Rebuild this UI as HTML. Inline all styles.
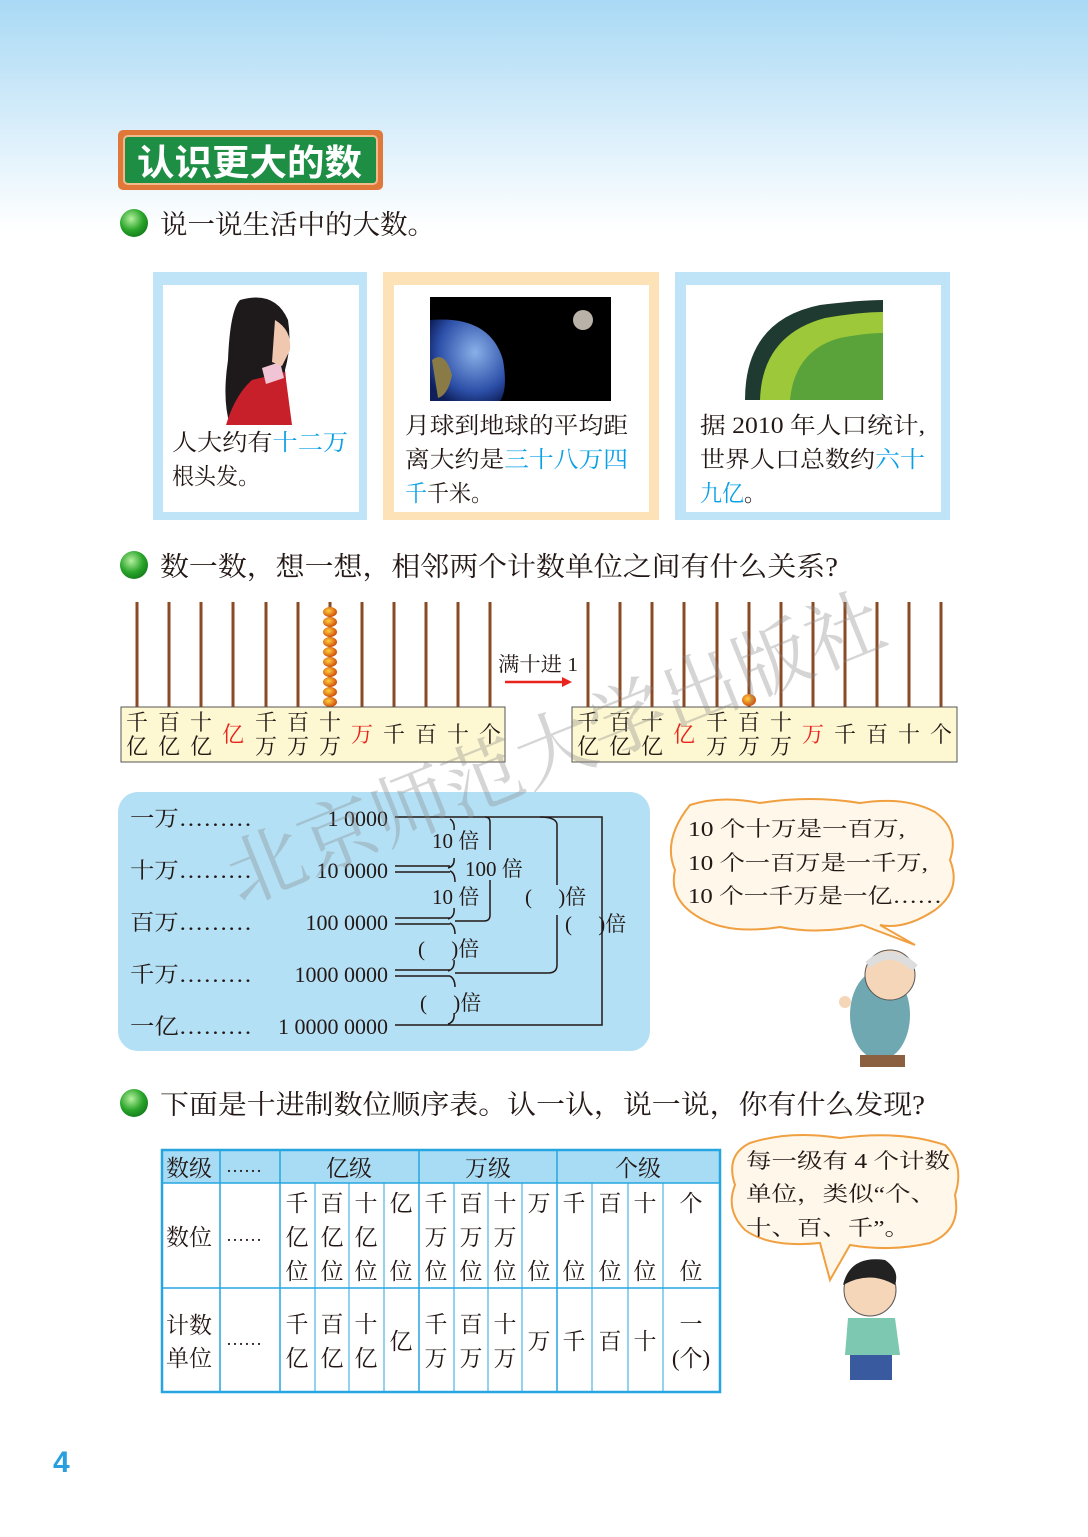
<!DOCTYPE html>
<html><head><meta charset="utf-8"><style>
html,body{margin:0;padding:0}
body{width:1088px;height:1537px;overflow:hidden;background:#fff}
svg{display:block}
text{font-family:"Liberation Serif","Noto Serif CJK SC",serif;fill:#231815}
.s{font-family:"Liberation Sans","Noto Sans CJK SC",sans-serif}
.b{fill:#0aa0e6}
</style></head><body>
<svg width="1088" height="1537" viewBox="0 0 1088 1537" xmlns="http://www.w3.org/2000/svg">
<defs>
<linearGradient id="bg" x1="0" y1="0" x2="0" y2="1"><stop offset="0" stop-color="#a9d9f5"/><stop offset="1" stop-color="#ffffff"/></linearGradient>
<radialGradient id="gb" cx="0.4" cy="0.35" r="0.7"><stop offset="0" stop-color="#b6f0a0"/><stop offset="0.6" stop-color="#2aa52a"/><stop offset="1" stop-color="#137a1a"/></radialGradient>
<radialGradient id="bead" cx="0.4" cy="0.4" r="0.6"><stop offset="0" stop-color="#ffd040"/><stop offset="1" stop-color="#d2500a"/></radialGradient>
<radialGradient id="earth" cx="0.6" cy="0.4" r="0.7"><stop offset="0" stop-color="#8ab0e8"/><stop offset="0.7" stop-color="#2c4fa8"/><stop offset="1" stop-color="#0e1f5a"/></radialGradient>
</defs>
<rect x="0" y="0" width="1088" height="230" fill="url(#bg)"/>

<rect x="118" y="130" width="265" height="60" rx="5" fill="#e0783a"/>
<rect x="124" y="136" width="253" height="48" rx="4" fill="#1e8e45" stroke="#f2b98a" stroke-width="2"/>
<text x="137" y="175" font-size="36" font-weight="bold" style="fill:#fff" class="s" textLength="225" lengthAdjust="spacingAndGlyphs">认识更大的数</text>

<circle cx="134" cy="223" r="14" fill="url(#gb)"/>
<text x="160" y="234" font-size="27" textLength="275" lengthAdjust="spacingAndGlyphs">说一说生活中的大数。</text>

<g>
<rect x="153" y="272" width="214" height="248" fill="#bfe3f7"/>
<rect x="163" y="285" width="196" height="227" fill="#fff"/>
<rect x="383" y="272" width="276" height="248" fill="#fde2b8"/>
<rect x="394" y="285" width="255" height="227" fill="#fff"/>
<rect x="675" y="272" width="275" height="248" fill="#bfe3f7"/>
<rect x="686" y="285" width="255" height="227" fill="#fff"/>
</g>
<g fill="#fff">
<circle cx="165" cy="268" r="4"/><circle cx="185" cy="268" r="4"/><circle cx="205" cy="268" r="4"/><circle cx="225" cy="268" r="4"/><circle cx="245" cy="268" r="4"/><circle cx="265" cy="268" r="4"/><circle cx="285" cy="268" r="4"/><circle cx="305" cy="268" r="4"/><circle cx="325" cy="268" r="4"/><circle cx="345" cy="268" r="4"/>
<circle cx="395" cy="268" r="4"/><circle cx="415" cy="268" r="4"/><circle cx="435" cy="268" r="4"/><circle cx="455" cy="268" r="4"/><circle cx="475" cy="268" r="4"/><circle cx="495" cy="268" r="4"/><circle cx="515" cy="268" r="4"/><circle cx="535" cy="268" r="4"/><circle cx="555" cy="268" r="4"/><circle cx="575" cy="268" r="4"/><circle cx="595" cy="268" r="4"/><circle cx="615" cy="268" r="4"/><circle cx="635" cy="268" r="4"/>
<circle cx="687" cy="268" r="4"/><circle cx="707" cy="268" r="4"/><circle cx="727" cy="268" r="4"/><circle cx="747" cy="268" r="4"/><circle cx="767" cy="268" r="4"/><circle cx="787" cy="268" r="4"/><circle cx="807" cy="268" r="4"/><circle cx="827" cy="268" r="4"/><circle cx="847" cy="268" r="4"/><circle cx="867" cy="268" r="4"/><circle cx="887" cy="268" r="4"/><circle cx="907" cy="268" r="4"/><circle cx="927" cy="268" r="4"/>
</g>
<path d="M240 300 Q275 290 288 320 Q292 345 285 370 L290 425 L230 425 Q222 400 228 360 Q230 310 240 300Z" fill="#1e1a1c"/>
<path d="M252 380 L285 372 L292 425 L226 425 Q235 395 252 380Z" fill="#c8202a"/>
<path d="M262 368 L280 362 L284 378 L266 384Z" fill="#f0c4d4"/>
<path d="M275 320 Q292 330 290 350 L282 366 L272 362Z" fill="#f0c8b0"/>
<rect x="430" y="297" width="181" height="104" fill="#000"/>
<path d="M430 320 Q490 315 503 360 Q508 390 500 401 L430 401Z" fill="url(#earth)"/>
<path d="M432 360 Q445 350 452 375 Q448 395 438 398Z" fill="#8a7a45"/>
<circle cx="583" cy="320" r="10" fill="#b8b2a8"/>
<path d="M745 400 Q745 320 820 305 Q860 300 883 300 L883 400Z" fill="#1f3a30"/>
<path d="M760 400 Q762 335 825 318 Q860 312 883 312 L883 400Z" fill="#9cc83a"/>
<path d="M790 400 Q795 350 840 338 Q865 333 883 333 L883 400Z" fill="#5aa23a"/>

<g font-size="23">
<text x="172" y="450" textLength="176" lengthAdjust="spacingAndGlyphs">人大约有<tspan class="b">十二万</tspan></text>
<text x="172" y="484" textLength="88" lengthAdjust="spacingAndGlyphs">根头发。</text>
<text x="405" y="433" textLength="223" lengthAdjust="spacingAndGlyphs">月球到地球的平均距</text>
<text x="405" y="467" textLength="223" lengthAdjust="spacingAndGlyphs">离大约是<tspan class="b">三十八万四</tspan></text>
<text x="405" y="501" textLength="88" lengthAdjust="spacingAndGlyphs"><tspan class="b">千</tspan>千米。</text>
<text x="700" y="433" textLength="225" lengthAdjust="spacingAndGlyphs">据 2010 年人口统计,</text>
<text x="700" y="467" textLength="225" lengthAdjust="spacingAndGlyphs">世界人口总数约<tspan class="b">六十</tspan></text>
<text x="700" y="501" textLength="66" lengthAdjust="spacingAndGlyphs"><tspan class="b">九亿</tspan>。</text>
</g>

<circle cx="134" cy="565" r="14" fill="url(#gb)"/>
<text x="160" y="576" font-size="27" textLength="678" lengthAdjust="spacingAndGlyphs">数一数，想一想，相邻两个计数单位之间有什么关系?</text>

<g stroke="#8a4a24" stroke-width="3">
<line x1="137" y1="602" x2="137" y2="707"/><line x1="169" y1="602" x2="169" y2="707"/><line x1="201" y1="602" x2="201" y2="707"/><line x1="233" y1="602" x2="233" y2="707"/><line x1="266" y1="602" x2="266" y2="707"/><line x1="298" y1="602" x2="298" y2="707"/><line x1="330" y1="602" x2="330" y2="707"/><line x1="362" y1="602" x2="362" y2="707"/><line x1="394" y1="602" x2="394" y2="707"/><line x1="426" y1="602" x2="426" y2="707"/><line x1="458" y1="602" x2="458" y2="707"/><line x1="490" y1="602" x2="490" y2="707"/>
<line x1="588" y1="602" x2="588" y2="707"/><line x1="620" y1="602" x2="620" y2="707"/><line x1="652" y1="602" x2="652" y2="707"/><line x1="684" y1="602" x2="684" y2="707"/><line x1="717" y1="602" x2="717" y2="707"/><line x1="749" y1="602" x2="749" y2="707"/><line x1="781" y1="602" x2="781" y2="707"/><line x1="813" y1="602" x2="813" y2="707"/><line x1="845" y1="602" x2="845" y2="707"/><line x1="877" y1="602" x2="877" y2="707"/><line x1="909" y1="602" x2="909" y2="707"/><line x1="941" y1="602" x2="941" y2="707"/>
</g>
<g fill="url(#bead)">
<ellipse cx="330" cy="612" rx="7" ry="5"/><ellipse cx="330" cy="622" rx="7" ry="5"/><ellipse cx="330" cy="632" rx="7" ry="5"/><ellipse cx="330" cy="642" rx="7" ry="5"/><ellipse cx="330" cy="652" rx="7" ry="5"/><ellipse cx="330" cy="662" rx="7" ry="5"/><ellipse cx="330" cy="672" rx="7" ry="5"/><ellipse cx="330" cy="682" rx="7" ry="5"/><ellipse cx="330" cy="692" rx="7" ry="5"/><ellipse cx="330" cy="702" rx="7" ry="5"/>
<ellipse cx="749" cy="700" rx="7" ry="6"/>
</g>
<rect x="121" y="707" width="384" height="55" fill="#fdf8d2" stroke="#555" stroke-width="1"/>
<rect x="572" y="707" width="385" height="55" fill="#fdf8d2" stroke="#555" stroke-width="1"/>
<g font-size="22" class="s">
<text x="126" y="730">千</text><text x="126" y="754">亿</text>
<text x="158" y="730">百</text><text x="158" y="754">亿</text>
<text x="190" y="730">十</text><text x="190" y="754">亿</text>
<text x="222" y="742" style="fill:#e8241c">亿</text>
<text x="255" y="730">千</text><text x="255" y="754">万</text>
<text x="287" y="730">百</text><text x="287" y="754">万</text>
<text x="319" y="730">十</text><text x="319" y="754">万</text>
<text x="351" y="742" style="fill:#e8241c">万</text>
<text x="383" y="742">千</text><text x="415" y="742">百</text><text x="447" y="742">十</text><text x="479" y="742">个</text>
<text x="577" y="730">千</text><text x="577" y="754">亿</text>
<text x="609" y="730">百</text><text x="609" y="754">亿</text>
<text x="641" y="730">十</text><text x="641" y="754">亿</text>
<text x="673" y="742" style="fill:#e8241c">亿</text>
<text x="706" y="730">千</text><text x="706" y="754">万</text>
<text x="738" y="730">百</text><text x="738" y="754">万</text>
<text x="770" y="730">十</text><text x="770" y="754">万</text>
<text x="802" y="742" style="fill:#e8241c">万</text>
<text x="834" y="742">千</text><text x="866" y="742">百</text><text x="898" y="742">十</text><text x="930" y="742">个</text>
</g>
<text x="498" y="671" font-size="20" textLength="80" lengthAdjust="spacingAndGlyphs">满十进 1</text>
<line x1="505" y1="682" x2="564" y2="682" stroke="#e8241c" stroke-width="2.5"/>
<path d="M572 682 L562 677 L562 687Z" fill="#e8241c"/>

<rect x="118" y="792" width="532" height="259" rx="20" fill="#b3e0f5"/>
<g font-size="22">
<text x="130" y="826" textLength="122" lengthAdjust="spacingAndGlyphs">一万………</text><text x="388" y="826" text-anchor="end">1 0000</text>
<text x="130" y="878" textLength="122" lengthAdjust="spacingAndGlyphs">十万………</text><text x="388" y="878" text-anchor="end">10 0000</text>
<text x="130" y="930" textLength="122" lengthAdjust="spacingAndGlyphs">百万………</text><text x="388" y="930" text-anchor="end">100 0000</text>
<text x="130" y="982" textLength="122" lengthAdjust="spacingAndGlyphs">千万………</text><text x="388" y="982" text-anchor="end">1000 0000</text>
<text x="130" y="1034" textLength="122" lengthAdjust="spacingAndGlyphs">一亿………</text><text x="388" y="1034" text-anchor="end">1 0000 0000</text>
</g>
<g fill="none" stroke="#231815" stroke-width="1.5">
<path d="M395 817 L602 817 L602 1025 L395 1025"/>
<path d="M485 817 Q490 817 490 822 L490 850"/><path d="M490 880 L490 915 Q490 921 484 921 L455 921"/>
<path d="M540 817 Q557 817 557 825 L557 885"/><path d="M557 915 L557 965 Q557 973 548 973 L455 973"/>
<path d="M395 866 L450 866 M395 872 L450 872"/>
<path d="M395 918 L450 918 M395 924 L450 924"/>
<path d="M395 970 L450 970 M395 976 L450 976"/>
<path d="M450 819 Q455 822 454 830 M454 858 Q455 866 448 868 M450 871 Q455 873 455 882 M454 908 Q455 917 448 919 M450 923 Q455 926 455 934 M454 960 Q455 969 448 971 M450 976 Q455 979 455 987 M454 1013 Q455 1022 448 1024"/>
</g>
<g font-size="21">
<text x="432" y="848">10 倍</text><text x="465" y="876">100 倍</text><text x="432" y="904">10 倍</text>
<text x="525" y="904">(　 )倍</text><text x="565" y="931">(　 )倍</text>
<text x="418" y="956">(　 )倍</text><text x="420" y="1010">(　 )倍</text>
</g>

<path d="M690 805 Q720 795 760 803 Q810 795 860 803 Q905 796 935 812 Q960 830 950 860 Q962 890 935 910 Q905 930 880 925 L915 945 L862 925 Q820 935 780 927 Q730 935 700 918 Q668 900 675 870 Q662 840 690 805Z" fill="#fef7ea" stroke="#f0a040" stroke-width="2"/>
<g font-size="21">
<text x="688" y="836" textLength="217" lengthAdjust="spacingAndGlyphs">10 个十万是一百万,</text>
<text x="688" y="870" textLength="240" lengthAdjust="spacingAndGlyphs">10 个一百万是一千万,</text>
<text x="688" y="903" textLength="254" lengthAdjust="spacingAndGlyphs">10 个一千万是一亿……</text>
</g>
<ellipse cx="880" cy="1015" rx="30" ry="45" fill="#6fa8b0"/>
<circle cx="890" cy="975" r="25" fill="#f5d6b8" stroke="#555"/>
<path d="M868 965 Q890 945 915 968" fill="none" stroke="#ddd" stroke-width="8"/>
<rect x="860" y="1055" width="45" height="12" fill="#8a6040"/>
<circle cx="845" cy="1002" r="6" fill="#f5d6b8"/>

<circle cx="134" cy="1103" r="14" fill="url(#gb)"/>
<text x="160" y="1114" font-size="27" textLength="765" lengthAdjust="spacingAndGlyphs">下面是十进制数位顺序表。认一认，说一说，你有什么发现?</text>

<rect x="162" y="1150" width="558" height="33" fill="#a8dcf5"/>
<g stroke="#27a5e0" fill="none">
<rect x="162" y="1150" width="558" height="242" stroke-width="2.5"/>
<path d="M162 1183 L720 1183 M162 1288 L720 1288" stroke-width="1.5"/>
<path d="M220 1150 V1392 M280 1150 V1392 M419 1150 V1392 M557 1150 V1392" stroke-width="1.5"/>
<path d="M315 1183 V1392 M349 1183 V1392 M384 1183 V1392 M454 1183 V1392 M488 1183 V1392 M522 1183 V1392 M592 1183 V1392 M628 1183 V1392 M663 1183 V1392" stroke-width="1"/>
</g>
<g font-size="23" class="s">
<text x="166" y="1176">数级</text><text x="226" y="1172" font-size="18">……</text>
<text x="349" y="1176" text-anchor="middle">亿级</text><text x="488" y="1176" text-anchor="middle">万级</text><text x="638" y="1176" text-anchor="middle">个级</text>
<text x="166" y="1245">数位</text><text x="226" y="1241" font-size="18">……</text>
<text x="166" y="1333">计数</text><text x="166" y="1366">单位</text><text x="226" y="1345" font-size="18">……</text>
</g>
<g font-size="23" class="s" text-anchor="middle">
<text x="297" y="1211">千</text><text x="297" y="1245">亿</text><text x="297" y="1279">位</text>
<text x="332" y="1211">百</text><text x="332" y="1245">亿</text><text x="332" y="1279">位</text>
<text x="366" y="1211">十</text><text x="366" y="1245">亿</text><text x="366" y="1279">位</text>
<text x="401" y="1211">亿</text><text x="401" y="1279">位</text>
<text x="436" y="1211">千</text><text x="436" y="1245">万</text><text x="436" y="1279">位</text>
<text x="471" y="1211">百</text><text x="471" y="1245">万</text><text x="471" y="1279">位</text>
<text x="505" y="1211">十</text><text x="505" y="1245">万</text><text x="505" y="1279">位</text>
<text x="539" y="1211">万</text><text x="539" y="1279">位</text>
<text x="574" y="1211">千</text><text x="574" y="1279">位</text>
<text x="610" y="1211">百</text><text x="610" y="1279">位</text>
<text x="645" y="1211">十</text><text x="645" y="1279">位</text>
<text x="691" y="1211">个</text><text x="691" y="1279">位</text>
<text x="297" y="1332">千</text><text x="297" y="1366">亿</text>
<text x="332" y="1332">百</text><text x="332" y="1366">亿</text>
<text x="366" y="1332">十</text><text x="366" y="1366">亿</text>
<text x="401" y="1349">亿</text>
<text x="436" y="1332">千</text><text x="436" y="1366">万</text>
<text x="471" y="1332">百</text><text x="471" y="1366">万</text>
<text x="505" y="1332">十</text><text x="505" y="1366">万</text>
<text x="539" y="1349">万</text><text x="574" y="1349">千</text><text x="610" y="1349">百</text><text x="645" y="1349">十</text>
<text x="691" y="1332">一</text><text x="691" y="1366">(个)</text>
</g>

<path d="M750 1143 Q790 1130 840 1138 Q900 1130 945 1145 Q965 1165 955 1195 Q962 1230 930 1243 Q890 1252 850 1245 L830 1280 L820 1243 Q770 1248 745 1230 Q725 1210 735 1185 Q725 1155 750 1143Z" fill="#fef7ea" stroke="#f0a040" stroke-width="2"/>
<g font-size="21">
<text x="746" y="1168" textLength="204" lengthAdjust="spacingAndGlyphs">每一级有 4 个计数</text>
<text x="746" y="1201" textLength="190" lengthAdjust="spacingAndGlyphs">单位，类似“个、</text>
<text x="746" y="1235" textLength="164" lengthAdjust="spacingAndGlyphs">十、百、千”。</text>
</g>
<circle cx="870" cy="1290" r="26" fill="#f5d6b8" stroke="#555"/>
<path d="M843 1285 Q850 1255 885 1260 Q900 1270 895 1285 Q870 1270 843 1285Z" fill="#222"/>
<path d="M848 1318 L895 1318 L900 1355 L845 1355Z" fill="#7cc8b0"/>
<rect x="850" y="1355" width="42" height="25" fill="#3a5aa0"/>

<text x="240" y="905" font-size="78" transform="rotate(-22 240 905)" style="fill:#888;opacity:0.35">北京师范大学出版社</text>

<text x="53" y="1472" font-size="30" font-weight="bold" class="s" style="fill:#2a9fe0">4</text>
</svg>
</body></html>
